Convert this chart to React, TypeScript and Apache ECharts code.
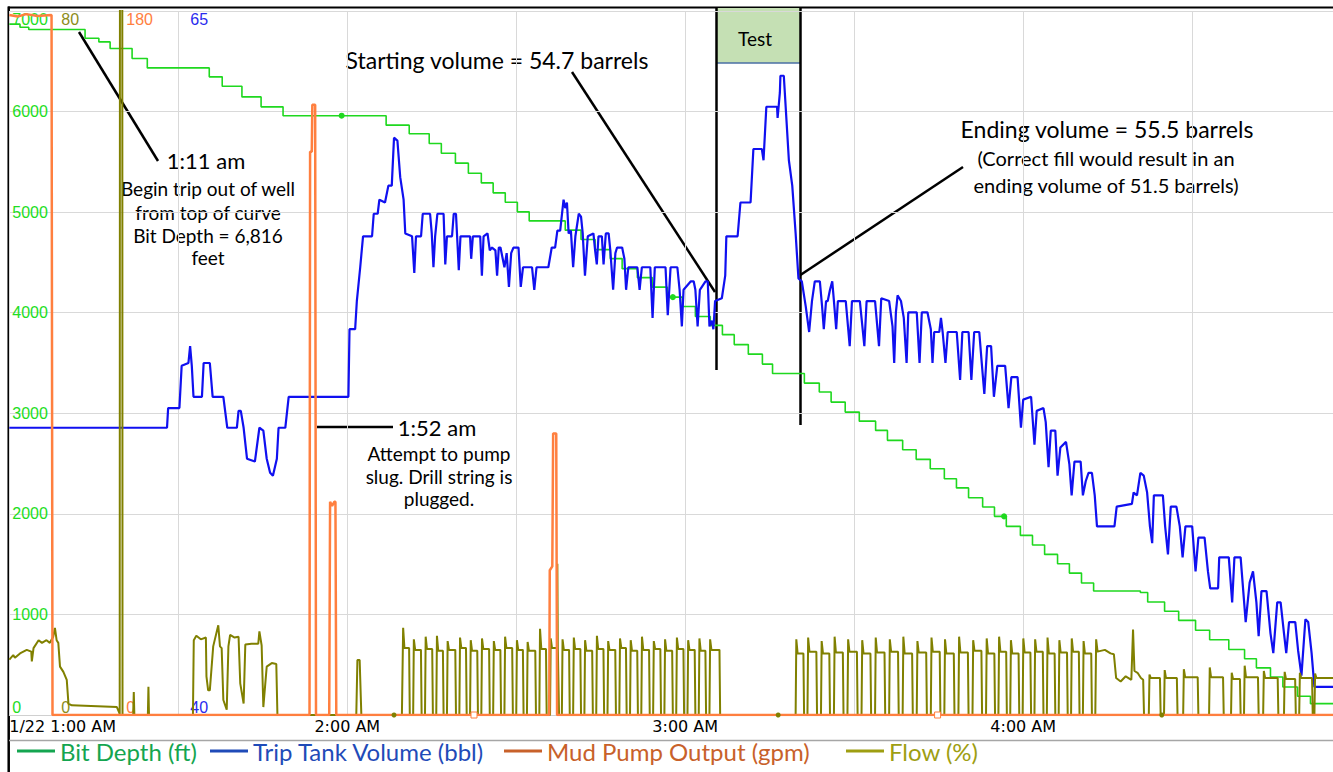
import React, { useEffect, useRef } from 'react';
import * as echarts from 'echarts';

// time = minutes after 1:00 AM (1/22)
const hourLabels: Record<number, string> = { 0: '1/22 1:00 AM', 60: '2:00 AM', 120: '3:00 AM', 180: '4:00 AM' };

// Bit Depth (ft) – value starts at time t (stair steps)
const bitDepth: [number, number][] = [
  [0, 6869], [1.9, 6839], [3.45, 6816], [13.45, 6729], [15.9, 6693], [17.9, 6627], [21.8, 6528], [24.5, 6434],
  [35.5, 6345], [37.8, 6252], [41.3, 6146], [44.7, 6047], [48.6, 5959], [66.9, 5865], [71.0, 5780], [74.55, 5683],
  [76.7, 5586], [79.2, 5487], [81.5, 5387], [83.8, 5291], [85.9, 5192], [88.05, 5099], [90.2, 5003], [92.3, 4913],
  [98.7, 4821], [101.5, 4728], [104.0, 4627], [106.7, 4538], [108.8, 4438], [111.5, 4349], [114.15, 4254],
  [116.8, 4155], [119.5, 4062], [121.8, 3963], [124.45, 3874], [126.6, 3782], [128.7, 3683], [131.2, 3588],
  [133.7, 3489], [135.5, 3395], [141.15, 3300], [143.8, 3211], [145.9, 3111], [148.4, 3012], [150.9, 2922],
  [153.8, 2830], [155.9, 2731], [158.6, 2637], [161.0, 2542], [163.5, 2448], [166.0, 2349], [168.15, 2258],
  [170.3, 2160], [172.8, 2068], [174.9, 1975], [177.0, 1876], [179.5, 1786], [181.65, 1690], [183.8, 1597],
  [186.1, 1504], [188.2, 1411], [190.35, 1312], [192.5, 1233], [200.8, 1218], [202.1, 1123], [205.1, 1031],
  [207.6, 941], [210.6, 842], [213.1, 748], [216.5, 651], [219.3, 559], [221.4, 469], [223.9, 378], [226.1, 278],
  [228.7, 186], [231.0, 113], [235, 113],
];
const bitDepthDots: [number, number][] = [[59.0, 5959], [117.8, 4155], [176.6, 1975]];

// Trip Tank Volume (bbl)
const tripTank: [number, number][] = [
  [0, 50.2], [28.0, 50.2], [28.2, 50.9], [30.2, 50.9], [30.6, 52.4], [31.8, 52.5], [32.1, 53.1], [32.4, 52.4],
  [32.7, 51.3], [34.2, 51.3], [34.5, 52.5], [35.6, 52.5], [36.1, 51.3], [38.0, 51.3], [38.7, 50.2], [40.4, 50.2],
  [40.7, 50.8], [41.1, 50.8], [41.6, 50.2], [42.2, 49.1], [43.6, 49.0], [44.4, 50.2], [45.1, 50.1], [45.7, 49.1],
  [46.3, 48.6], [46.8, 48.5], [47.5, 49.1], [47.8, 50.2], [49.0, 50.2], [49.6, 51.3], [60.2, 51.3], [60.4, 53.7],
  [61.4, 53.7], [61.7, 54.7], [62.3, 55.9], [62.8, 57.0], [64.4, 57.0], [64.7, 57.8], [65.4, 57.8], [65.7, 58.3],
  [66.7, 58.2], [67.3, 58.8], [67.9, 58.8], [68.3, 60.5], [68.9, 60.4], [69.4, 59.1], [70.0, 58.3], [70.3, 57.1],
  [71.5, 57.0], [71.9, 55.7], [72.2, 57.0], [73.1, 57.0], [73.4, 57.8], [74.7, 57.8], [75.0, 57.1], [75.3, 55.9],
  [75.6, 57.0], [76.0, 57.8], [77.1, 57.8], [77.4, 56.0], [77.7, 57.0], [78.6, 57.0], [78.9, 57.8], [79.3, 57.8],
  [79.8, 55.8], [80.1, 57.0], [81.8, 57.0], [82.0, 56.2], [82.3, 57.0], [83.6, 57.0], [83.9, 55.6], [84.2, 57.0],
  [84.9, 57.1], [85.3, 56.5], [85.7, 56.6], [86.3, 56.5], [86.6, 55.6], [86.9, 56.6], [87.2, 56.6], [87.5, 56.3],
  [87.9, 55.9], [88.3, 56.4], [88.7, 55.2], [89.1, 56.4], [89.5, 56.6], [90.4, 56.6], [90.8, 55.2], [91.2, 55.9],
  [92.8, 55.9], [93.2, 55.1], [93.6, 55.9], [95.7, 55.9], [96.3, 56.6], [96.9, 56.6], [97.3, 57.2], [97.8, 57.2],
  [98.4, 58.3], [98.7, 58.0], [99.0, 58.2], [99.3, 57.1], [99.7, 57.2], [100.1, 55.9], [100.5, 57.0], [101.1, 57.8],
  [101.5, 57.7], [101.8, 57.1], [102.2, 55.6], [102.7, 57.0], [103.7, 57.1], [104.0, 56.5], [104.3, 56.0],
  [104.6, 57.0], [105.2, 57.0], [105.5, 56.0], [105.9, 57.1], [106.4, 57.1], [106.7, 56.5], [107.2, 55.1],
  [107.6, 56.4], [107.9, 56.6], [108.8, 56.6], [109.2, 56.2], [109.5, 55.1], [109.9, 55.9], [111.5, 55.9],
  [111.9, 55.1], [112.3, 55.9], [113.8, 55.9], [114.2, 54.1], [114.6, 55.9], [116.5, 55.9], [116.9, 54.2],
  [117.4, 55.9], [118.6, 55.9], [119.0, 55.1], [119.4, 53.8], [119.7, 55.1], [121.0, 55.4], [121.5, 55.4],
  [121.8, 55.1], [122.2, 53.8], [122.6, 55.1], [123.6, 55.4], [124.0, 55.4], [124.3, 53.8], [124.7, 54.0],
  [125.0, 53.7], [125.3, 54.7], [126.5, 54.8], [127.1, 55.6], [127.3, 57.0], [129.3, 57.0], [129.8, 58.2],
  [131.6, 58.2], [132.1, 60.1], [133.6, 60.1], [133.9, 59.7], [134.4, 61.6], [136.3, 61.6], [136.4, 61.2],
  [136.8, 62.1], [136.9, 62.7], [137.5, 62.7], [137.8, 61.7], [138.4, 59.7], [139.0, 58.8], [139.6, 57.1],
  [140.1, 55.5], [140.7, 55.4], [141.4, 54.5], [142.0, 53.6], [142.5, 54.7], [143.0, 55.4], [143.9, 55.4],
  [144.3, 54.5], [144.6, 53.7], [145.0, 54.7], [145.3, 54.7], [145.7, 55.1], [146.1, 55.4], [146.4, 54.7],
  [146.8, 53.7], [147.1, 54.7], [148.5, 54.7], [149.2, 53.1], [149.6, 54.7], [151.0, 54.7], [151.8, 53.1],
  [152.2, 54.7], [153.7, 54.7], [154.4, 53.1], [154.8, 54.8], [156.2, 54.7], [156.8, 53.8], [157.1, 52.5],
  [157.4, 54.3], [157.7, 54.9], [158.3, 54.7], [158.8, 54.1], [159.3, 52.5], [159.6, 54.3], [161.1, 54.3],
  [161.6, 52.5], [162.0, 54.3], [163.0, 54.3], [163.6, 53.7], [163.9, 52.5], [164.2, 53.6], [165.1, 53.6],
  [165.4, 54.1], [165.7, 53.6], [166.2, 52.5], [166.6, 53.6], [168.2, 53.6], [168.8, 51.9], [169.2, 53.6],
  [170.3, 53.6], [170.8, 51.9], [171.3, 53.6], [172.2, 53.6], [172.6, 52.6], [173.1, 51.4], [173.6, 53.1],
  [174.3, 53.1], [174.8, 51.3], [175.4, 52.4], [176.8, 52.4], [177.4, 50.9], [177.9, 52.0], [179.0, 52.0],
  [179.6, 50.2], [180.0, 51.2], [181.4, 51.3], [182.0, 49.6], [182.4, 50.8], [183.6, 50.9], [184.0, 50.4],
  [184.5, 48.8], [184.9, 50.1], [185.7, 50.1], [186.1, 48.5], [186.6, 49.5], [187.6, 49.7], [188.2, 48.9],
  [188.6, 47.8], [189.1, 49.0], [190.2, 49.0], [190.6, 47.8], [191.1, 48.3], [191.6, 48.6], [192.2, 48.6],
  [192.7, 47.8], [193.1, 46.7], [196.2, 46.7], [196.6, 47.4], [199.3, 47.5], [199.6, 47.9], [200.2, 47.8],
  [200.8, 48.6], [201.4, 48.5], [202.0, 47.9], [202.5, 46.7], [202.9, 46.1], [203.2, 47.8], [204.8, 47.8],
  [205.2, 46.7], [205.7, 45.7], [206.2, 47.4], [207.2, 47.4], [207.8, 46.7], [208.3, 45.6], [208.8, 46.7],
  [210.0, 46.7], [210.6, 45.1], [211.1, 46.3], [212.2, 46.3], [212.8, 45.1], [213.2, 44.5], [214.6, 44.5],
  [214.8, 45.6], [216.5, 45.6], [217.1, 44.0], [217.5, 45.6], [218.6, 45.6], [219.5, 43.3], [220.2, 44.7],
  [220.8, 45.1], [221.4, 44.0], [221.8, 42.8], [222.3, 44.4], [223.2, 44.4], [223.9, 42.9], [224.4, 42.2],
  [225.1, 44.0], [225.7, 44.0], [226.3, 42.9], [226.7, 42.2], [227.2, 43.3], [228.3, 43.3], [228.8, 42.3],
  [229.4, 41.4], [230.1, 43.4], [230.6, 43.3], [231.2, 42.2], [231.7, 41.0], [235, 41.0],
];

// Mud Pump Output (gpm)
const mudPump: [number, number][] = [
  [0, 179], [1.5, 178.6], [3, 179.2], [5, 178.7], [7.5, 179], [7.67, 0], [53.3, 0], [53.4, 144], [53.7, 144],
  [53.8, 156], [54.3, 156], [54.45, 0], [56.8, 0], [56.95, 54.5], [57.3, 53.5], [57.7, 54.5], [57.9, 54.5],
  [58.05, 0], [95.85, 0], [95.95, 37], [96.4, 38], [96.55, 72], [97.1, 72], [97.25, 0], [235, 0],
];
const mudPumpSquares: [number, number][] = [[82.5, 0], [164.8, 0]];

// Flow (%) – explicit early trace
const flowEarly: [number, number][] = [
  [0, 6.3], [0.7, 6.8], [1.0, 6.5], [1.9, 7.0], [3.1, 7.4], [3.9, 7.2], [4.0, 6.1], [4.3, 7.6], [5.2, 8.5],
  [5.8, 8.2], [6.6, 8.5], [7.2, 8.2], [7.8, 8.9], [8.1, 9.9], [8.4, 8.5], [8.7, 8.2], [9.0, 5.5], [9.6, 4.9],
  [10.2, 4.0], [10.5, 1.3], [11.1, 1.1], [19.1, 0.9], [19.55, 0.2], [19.6, 0], [19.65, 100], [20.05, 100],
  [20.1, 0], [22.0, 0], [22.1, 2.6], [22.2, 0], [24.6, 0], [24.7, 3.2], [24.8, 0], [32.6, 0], [32.75, 8.5],
  [33.2, 9.0], [34.0, 8.6], [34.9, 8.8], [35.0, 4.4], [35.3, 2.8], [35.6, 2.8], [36.2, 7.8], [37.1, 10.2],
  [37.4, 7.8], [37.7, 7.6], [38.0, 1.7], [38.6, 0.6], [38.9, 7.8], [39.2, 9.1], [40.0, 8.8], [40.7, 8.9],
  [41.0, 3.6], [41.6, 1.3], [41.9, 8.0], [43.0, 8.1], [44.2, 8.1], [44.4, 9.5], [44.8, 7.9], [45.1, 0.9],
  [45.7, 5.5], [46.6, 5.9], [47.4, 5.8], [47.6, 0], [61.6, 0], [61.8, 6.25], [62.2, 6.25], [62.5, 0], [69.7, 0],
];
// Flow pulses: [rise, fall, peak, level, spikeTime?, spikeValue?]
const flowPulsesA: number[][] = [
  [69.8, 71.1, 9.9, 7.6], [71.7, 73.2, 8.6, 7.4], [73.8, 75.2, 8.9, 7.5], [75.8, 77.1, 9.0, 7.3],
  [77.7, 79.3, 8.4, 7.4], [79.9, 81.2, 8.8, 7.6], [81.8, 83.2, 8.5, 7.3], [83.8, 85.3, 8.7, 7.5],
  [85.9, 87.3, 8.4, 7.4], [87.9, 89.4, 8.9, 7.6], [90.0, 91.3, 8.5, 7.4], [91.9, 93.5, 8.3, 7.3],
  [94.1, 95.4, 9.8, 7.5], [96.0, 97.6, 8.7, 7.6, 97.3, 17.2], [98.1, 99.5, 8.6, 7.4], [100.1, 101.5, 8.8, 7.5],
  [102.1, 103.6, 8.5, 7.3], [104.2, 105.6, 9.0, 7.5], [106.2, 107.7, 8.4, 7.4], [108.3, 109.6, 8.7, 7.6],
  [110.2, 111.6, 8.5, 7.3], [112.2, 113.7, 8.9, 7.4], [114.3, 115.7, 8.4, 7.5], [116.3, 117.8, 8.6, 7.3],
  [118.4, 119.8, 8.8, 7.5], [120.4, 121.8, 8.5, 7.4], [122.4, 123.7, 8.7, 7.3], [124.3, 126.2, 8.6, 7.4],
];
const flowPulsesB: number[][] = [
  [139.6, 141.1, 8.6, 7.0], [141.7, 143.4, 8.8, 7.2], [144.1, 145.7, 8.4, 7.0], [146.4, 148.1, 8.9, 7.1],
  [148.8, 150.6, 8.6, 7.2], [151.3, 153.0, 8.5, 7.0], [153.7, 155.5, 8.8, 7.1], [156.2, 157.9, 8.6, 7.2],
  [158.6, 160.4, 8.9, 7.0], [161.1, 162.9, 8.4, 7.1], [163.6, 165.3, 8.8, 7.2], [166.0, 167.8, 8.6, 7.0],
  [168.5, 170.3, 8.9, 7.1], [171.0, 172.7, 8.5, 7.3], [173.4, 175.0, 8.7, 7.0], [175.6, 177.1, 8.9, 7.2],
  [177.7, 179.3, 8.5, 7.0], [179.9, 181.4, 8.7, 7.1], [182.0, 183.6, 8.6, 7.2], [184.2, 185.7, 8.8, 7.0],
  [186.3, 187.9, 8.5, 7.1], [188.5, 190.0, 8.7, 7.2], [190.6, 192.2, 8.4, 7.0],
];
const flowTransition: [number, number][] = [
  [192.8, 0], [192.95, 8.6], [193.2, 7.2], [194.5, 7.4], [195.5, 7.0], [196.1, 6.9], [196.5, 4.2], [197.3, 3.8],
  [198.2, 4.4], [199.2, 4.0], [199.5, 9.7], [199.75, 5.0], [200.3, 4.8], [200.9, 4.2], [201.3, 4.0], [201.45, 0],
];
const flowPulsesC: number[][] = [
  [202.3, 204.4, 4.6, 4.2], [205.0, 207.4, 5.1, 4.2], [208.4, 211.1, 5.2, 4.3], [213.0, 215.6, 5.4, 4.3],
  [216.9, 218.6, 4.8, 4.1], [219.2, 221.8, 5.6, 4.3], [222.6, 225.3, 5.0, 4.2], [226.3, 228.4, 4.9, 4.1],
  [229.0, 231.4, 4.8, 4.2], [231.7, 235.5, 4.7, 4.2],
];
const flowDots: [number, number][] = [[68.3, 0], [136.5, 0], [204.6, 0]];

function pulsesToPoints(pulses: number[][]): [number, number][] {
  const pts: [number, number][] = [];
  for (const p of pulses) {
    const [rise, fall, peak, level, spikeT, spikeV] = p;
    pts.push([rise, 0], [rise + 0.12, peak], [rise + 0.35, level]);
    if (spikeT !== undefined) pts.push([spikeT - 0.06, level], [spikeT, spikeV], [spikeT + 0.08, level]);
    pts.push([fall - 0.12, level], [fall, 0]);
  }
  return pts;
}

const COLORS = {
  depth: '#1fd81f',
  trip: '#1010f0',
  pump: '#ff7f3f',
  flow: '#808000',
};

export default function App() {
  const ref = useRef<HTMLDivElement>(null);
  useEffect(() => {
    if (!ref.current) return;
    const chart = echarts.init(ref.current, undefined, { renderer: 'svg' });
    const flowData = [
      ...flowEarly,
      ...pulsesToPoints(flowPulsesA),
      ...pulsesToPoints(flowPulsesB),
      ...flowTransition,
      ...pulsesToPoints(flowPulsesC),
    ];
    const axisFont = { fontFamily: 'Liberation Sans', fontSize: 16 };
    const yCommon = (min: number, max: number, interval: number, margin: number, color: string, split: boolean) => ({
      type: 'value',
      position: 'left',
      min,
      max,
      interval,
      axisLine: { show: false },
      axisTick: { show: false },
      splitLine: { show: split, lineStyle: { color: '#d9d9d9', width: 1 } },
      axisLabel: {
        inside: true,
        margin,
        color,
        ...axisFont,
        formatter: (v: number) => String(v),
        verticalAlignMinLabel: 'bottom',
        verticalAlignMaxLabel: 'top',
      },
    });
    const legendCommon = {
      orient: 'horizontal',
      icon: 'rect',
      itemWidth: 38,
      itemHeight: 3,
      padding: 0,
      top: 738,
      selectedMode: false,
      textStyle: { fontFamily: 'Lato', fontSize: 24, lineHeight: 26 },
    };
    const txt = (x: number, y: number, text: string, size: number) => ({
      type: 'text',
      x,
      y,
      style: { text, fontSize: size, fontFamily: 'Lato', fill: '#000', align: 'center', verticalAlign: 'middle' },
    });
    const ln = (x1: number, y1: number, x2: number, y2: number, w = 2.5, c = '#000') => ({
      type: 'line',
      shape: { x1, y1, x2, y2 },
      style: { stroke: c, lineWidth: w },
    });
    chart.setOption({
      animation: false,
      backgroundColor: '#ffffff',
      grid: { left: 9.3, right: 0, top: 11, bottom: 57, containLabel: false },
      xAxis: {
        type: 'value',
        min: 0,
        max: 235,
        interval: 30,
        axisLine: { show: true, lineStyle: { color: '#d0d0d0' } },
        axisTick: { show: false },
        splitLine: { show: true, lineStyle: { color: '#d9d9d9', width: 1 } },
        axisLabel: {
          formatter: (v: number) => hourLabels[v] ?? '',
          color: '#000',
          fontFamily: 'DejaVu Sans',
          fontSize: 16,
          margin: 3,
          alignMinLabel: 'left',
          showMaxLabel: false,
        },
      },
      yAxis: [
        yCommon(0, 7000, 1000, 3, '#22dd22', true),
        yCommon(0, 80, 80, 52, '#8c8c1a', false),
        yCommon(0, 180, 180, 117, '#ff8040', false),
        yCommon(40, 65, 25, 181, '#2a2aee', false),
      ],
      legend: [
        { ...legendCommon, left: 17, data: [{ name: 'Bit Depth (ft)', itemStyle: { color: '#14a550' }, textStyle: { color: '#14a550' } }] },
        { ...legendCommon, left: 210, data: [{ name: 'Trip Tank Volume (bbl)', itemStyle: { color: '#1f4bb8' }, textStyle: { color: '#1f4bb8' } }] },
        { ...legendCommon, left: 504, data: [{ name: 'Mud Pump Output (gpm)', itemStyle: { color: '#c8612a' }, textStyle: { color: '#c8612a' } }] },
        { ...legendCommon, left: 846, data: [{ name: 'Flow (%)', itemStyle: { color: '#9e9e12' }, textStyle: { color: '#9e9e12' } }] },
      ],
      series: [
        {
          name: 'Bit Depth (ft)',
          type: 'line',
          yAxisIndex: 0,
          step: 'end',
          data: bitDepth,
          showSymbol: false,
          lineStyle: { color: COLORS.depth, width: 1.6 },
          itemStyle: { color: COLORS.depth },
          markPoint: {
            symbol: 'circle',
            symbolSize: 6,
            label: { show: false },
            itemStyle: { color: COLORS.depth },
            data: bitDepthDots.map((c) => ({ coord: c })),
          },
        },
        {
          name: 'Trip Tank Volume (bbl)',
          type: 'line',
          yAxisIndex: 3,
          data: tripTank,
          showSymbol: false,
          lineStyle: { color: COLORS.trip, width: 2.2 },
          itemStyle: { color: COLORS.trip },
        },
        {
          name: 'Flow (%)',
          type: 'line',
          yAxisIndex: 1,
          data: flowData,
          showSymbol: false,
          lineStyle: { color: COLORS.flow, width: 2 },
          itemStyle: { color: COLORS.flow },
          markPoint: {
            symbol: 'circle',
            symbolSize: 5,
            label: { show: false },
            itemStyle: { color: COLORS.flow },
            data: flowDots.map((c) => ({ coord: c })),
          },
        },
        {
          name: 'Mud Pump Output (gpm)',
          type: 'line',
          yAxisIndex: 2,
          data: mudPump,
          showSymbol: false,
          lineStyle: { color: COLORS.pump, width: 2.5 },
          itemStyle: { color: COLORS.pump },
          markPoint: {
            symbol: 'rect',
            symbolSize: 6,
            label: { show: false },
            itemStyle: { color: '#ffffff', borderColor: COLORS.pump, borderWidth: 1 },
            data: mudPumpSquares.map((c) => ({ coord: c })),
          },
        },
      ],
      graphic: [
        ln(8, 7.5, 1333, 7.5, 2),
        ln(8.7, 6.5, 8.7, 772, 2.5),
        ln(9, 740.5, 1333, 740.5, 1.5, '#a6a6a6'),
        { type: 'rect', shape: { x: 113, y: 148, width: 190, height: 134 }, style: { fill: 'rgba(255,255,255,0.72)' } },
        { type: 'rect', shape: { x: 350, y: 408, width: 175, height: 108 }, style: { fill: 'rgba(255,255,255,0.72)' } },
        { type: 'rect', shape: { x: 338, y: 44, width: 318, height: 34 }, style: { fill: 'rgba(255,255,255,0.72)' } },
        { type: 'rect', shape: { x: 945, y: 112, width: 318, height: 88 }, style: { fill: 'rgba(255,255,255,0.6)' } },
        { type: 'rect', shape: { x: 716.5, y: 8, width: 84, height: 55 }, style: { fill: '#c5e0b4' } },
        ln(716.5, 63, 800.5, 63, 1.5, '#4a6fa5'),
        ln(716.5, 7, 716.5, 370, 2.5),
        ln(800.5, 7, 800.5, 425, 2.5),
        txt(755, 38, 'Test', 19),
        ln(79, 32, 158, 161),
        txt(206, 160, '1:11 am', 22),
        txt(208, 188, 'Begin trip out of well', 19),
        txt(208, 212, 'from top of curve', 19),
        txt(208, 235, 'Bit Depth = 6,816', 19),
        txt(208, 257, 'feet', 19),
        ln(317, 427, 393, 427),
        txt(437, 427, '1:52 am', 22),
        txt(439, 453, 'Attempt to pump', 19),
        txt(439, 476, 'slug. Drill string is', 19),
        txt(439, 498, 'plugged.', 19),
        txt(497, 60, 'Starting volume = 54.7 barrels', 23),
        ln(572, 72, 715, 292),
        txt(1107, 129, 'Ending volume = 55.5 barrels', 23),
        txt(1106, 158, '(Correct fill would result in an', 20),
        txt(1106, 185, 'ending volume of 51.5 barrels)', 20),
        ln(800.4, 275, 963, 167),
      ],
    });
    return () => chart.dispose();
  }, []);
  return <div ref={ref} style={{ position: 'absolute', left: 0, top: 0, width: 1333, height: 772 }} />;
}
